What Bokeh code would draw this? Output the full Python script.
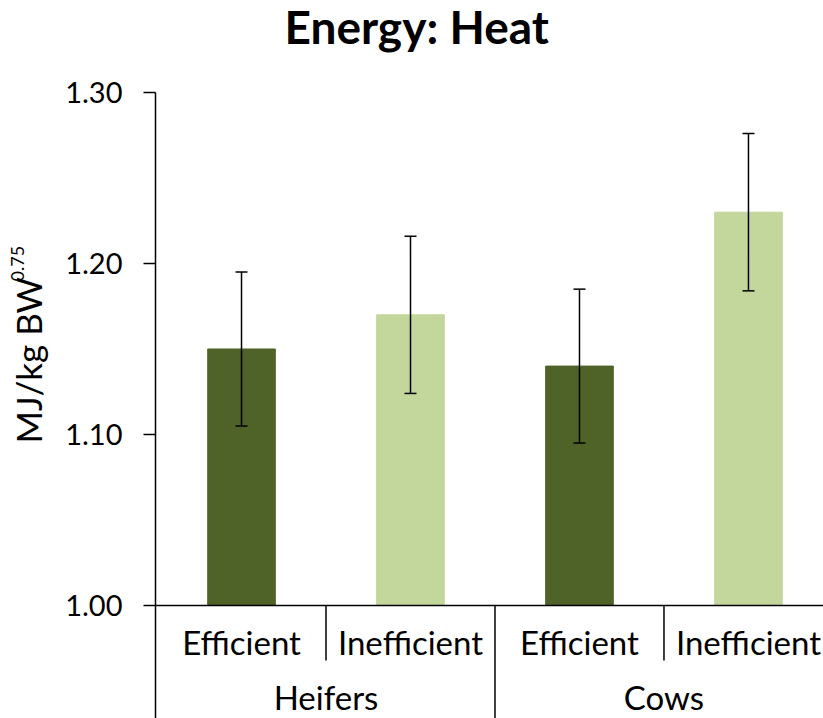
import math
from bokeh.plotting import figure
from bokeh.models import (ColumnDataSource, Range1d, FixedTicker, NumeralTickFormatter,
                          Whisker, TeeHead, Span, Label, Title)
from bokeh.core.properties import value
from bokeh.embed import file_html
from bokeh.resources import INLINE

# ---- data ----
groups = ["Heifers", "Cows"]
types = ["Efficient", "Inefficient"]
bar_labels = ["Efficient", "Inefficient", "Efficient", "Inefficient"]
heat = [1.15, 1.17, 1.14, 1.23]
err = [0.045, 0.046, 0.045, 0.046]
colors = ["#4F6228", "#C3D69B", "#4F6228", "#C3D69B"]
y_ticks = [1.00, 1.10, 1.20, 1.30]

FONT = "Lato"
Y0 = 1.00
Y_TOP = 1.30
Y_BOTTOM = 0.9339
X_START = -0.509
X_END = 3.444

xs = list(range(len(heat)))
src = ColumnDataSource(dict(
    x=xs, top=heat, color=colors,
    upper=[h + e for h, e in zip(heat, err)],
    lower=[h - e for h, e in zip(heat, err)],
))

p = figure(width=823, height=718, output_backend="svg", toolbar_location=None,
           x_range=Range1d(X_START, X_END), y_range=Range1d(Y_BOTTOM, Y_TOP),
           min_border_left=155, min_border_right=0, min_border_top=92,
           min_border_bottom=0)
p.outline_line_color = None
p.xgrid.visible = False
p.ygrid.visible = False
p.xaxis.visible = False

p.title.text = "Energy: Heat"
p.title.align = "left"
p.title.offset = 129
p.title.text_font = FONT
p.title.text_font_size = "46px"
p.title.text_font_style = "bold"
p.title.text_color = "black"
p.title.standoff = -24
# empty spacer between the title and the plot area
p.add_layout(Title(text=" ", text_font_size="4px", standoff=44), "above")

yax = p.yaxis[0]
yax.ticker = FixedTicker(ticks=y_ticks)
yax.formatter = NumeralTickFormatter(format="0.00")
yax.major_tick_out = 12
yax.major_tick_in = 0
yax.minor_tick_line_color = None
yax.major_label_standoff = 21
yax.major_label_text_font = FONT
yax.major_label_text_font_size = "29px"
yax.major_label_text_color = "black"
yax.axis_line_color = "black"
yax.axis_line_width = 1.5
yax.major_tick_line_color = "black"
yax.major_tick_line_width = 1.5

p.vbar(x="x", top="top", bottom=Y0, width=0.40, color="color", source=src)

p.add_layout(Whisker(base="x", upper="upper", lower="lower", source=src, level="overlay",
                     line_color="black", line_width=1.5,
                     upper_head=TeeHead(size=12, line_color="black", line_width=1.5),
                     lower_head=TeeHead(size=12, line_color="black", line_width=1.5)))

# baseline of the category axis
p.add_layout(Span(location=Y0, dimension="width", line_color="black", line_width=1.5))

# separators between categories / groups
short_end = Y0 - 0.0322
sep_x = [0.5, 1.5, 2.5]
sep_y1 = [short_end, Y_BOTTOM, short_end]
p.segment(x0=sep_x, y0=[Y0] * 3, x1=sep_x, y1=sep_y1, line_color="black", line_width=1.5)

# category labels
p.text(x=xs, y=[Y0 - 0.0215] * len(xs), text=bar_labels, text_font=value(FONT),
       text_font_size="33px", text_align="center", text_baseline="middle", text_color="black")
p.text(x=[0.5, 2.5], y=[Y0 - 0.0535] * 2, text=groups, text_font=value(FONT),
       text_font_size="33px", text_align="center", text_baseline="middle", text_color="black")

# y-axis title with superscript (placed in the left side panel so it is not clipped)
p.add_layout(Label(x=-1.261, y=1.0947, text="MJ/kg BW",
                   angle=math.pi / 2, text_align="left", text_baseline="alphabetic",
                   text_font=FONT, text_font_size="35px", text_color="black"), "left")
p.add_layout(Label(x=-1.326, y=1.1895, text="0.75",
                   angle=math.pi / 2, text_align="left", text_baseline="alphabetic",
                   text_font=FONT, text_font_size="18px", text_color="black"), "left")

open("out.html", "w").write(file_html(p, INLINE))
